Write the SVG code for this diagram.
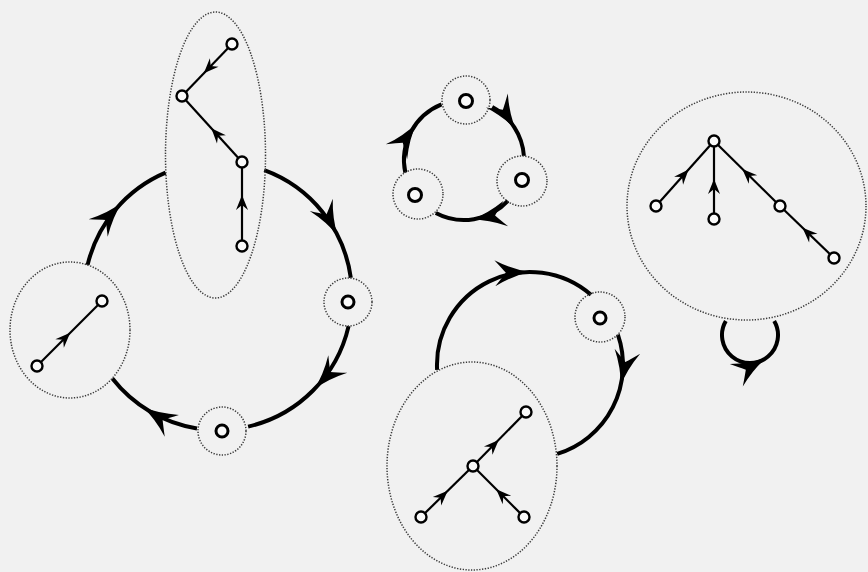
<svg xmlns="http://www.w3.org/2000/svg" width="868" height="572" viewBox="0 0 868 572">
<style>
.bg{fill:#f1f1f1}
.grp{fill:none;stroke:#3a3a3a;stroke-width:1.5;stroke-dasharray:1.3 1.5}
.arc{fill:none;stroke:#000;stroke-width:4}
.edge{fill:none;stroke:#000;stroke-width:2.2}
.n{fill:#fafafa;stroke:#000;stroke-width:2.4}
.nb{fill:#fafafa;stroke:#000;stroke-width:3}
</style>
<defs>
<path id="big" d="M3,0 Q-14,-3 -32,-13 Q-25,-5 -21,0 Q-25,5 -32,13 Q-14,3 3,0 Z" fill="#000"/>
<path id="small" d="M1,0 L-14,-6 L-9,0 L-14,6 Z" fill="#000"/>
</defs>
<rect class="bg" x="0" y="0" width="868" height="572"/>

<g id="connectors">
<path class="arc" d="M87.6,264.9 A134,134 0 0 1 165.6,172.7"/>
<path class="arc" d="M264.3,170.2 A134,134 0 0 1 350.8,277.8"/>
<path class="arc" d="M348.6,326.1 A134,134 0 0 1 248.1,426.6"/>
<path class="arc" d="M197.0,428.4 A134,134 0 0 1 112.4,378.5"/>
<path class="arc" d="M492.2,107.0 A60,60 0 0 1 523.9,155.8"/>
<path class="arc" d="M507.9,200.9 A60,60 0 0 1 435.8,213.0"/>
<path class="arc" d="M405.3,172.5 A60,60 0 0 1 441.5,104.4"/>
<path class="arc" d="M437.1,369.9 A93,93 0 0 1 591.0,294.8"/>
<path class="arc" d="M617.9,334.7 A93,93 0 0 1 557.2,453.9"/>
<path class="arc" d="M725.8,321 A28,28 0 1 0 774.2,321"/>
<use href="#big" transform="translate(120,204.6) rotate(-47)"/>
<use href="#big" transform="translate(336.3,233.1) rotate(62)"/>
<use href="#big" transform="translate(316,387.4) rotate(133)"/>
<use href="#big" transform="translate(145,408.4) rotate(213)"/>
<use href="#big" transform="translate(514.3,127.3) rotate(57)"/>
<use href="#big" transform="translate(474.4,219.1) rotate(170)"/>
<use href="#big" transform="translate(414.8,125.6) rotate(305)"/>
<use href="#big" transform="translate(526.8,272.1) rotate(358)"/>
<use href="#big" transform="translate(621.3,382.7) rotate(101)"/>
<use href="#big" transform="translate(764,359.2) rotate(-30)"/>

<path class="edge" d="M232,44 L182,96"/>
<path class="edge" d="M242,162 L182,96"/>
<path class="edge" d="M242,246 L242,162"/>
<path class="edge" d="M37,366 L102,301"/>
<path class="edge" d="M656,206 L714,141"/>
<path class="edge" d="M714,219 L714,141"/>
<path class="edge" d="M780,206 L714,141"/>
<path class="edge" d="M834,258 L780,206"/>
<path class="edge" d="M421,517 L473,466"/>
<path class="edge" d="M473,466 L526,412"/>
<path class="edge" d="M524,517 L473,466"/>
<use href="#small" transform="translate(204.5,72.6) rotate(133.9)"/>
<use href="#small" transform="translate(212,129) rotate(227.7)"/>
<use href="#small" transform="translate(242,196) rotate(-90)"/>
<use href="#small" transform="translate(69.5,333.5) rotate(-45)"/>
<use href="#small" transform="translate(687.9,170.3) rotate(-48.3)"/>
<use href="#small" transform="translate(714,180) rotate(-90)"/>
<use href="#small" transform="translate(743,169.6) rotate(-135.4)"/>
<use href="#small" transform="translate(803.2,228.4) rotate(-136.1)"/>
<use href="#small" transform="translate(447,491.5) rotate(-44.4)"/>
<use href="#small" transform="translate(498,440.6) rotate(-45.5)"/>
<use href="#small" transform="translate(497,490) rotate(-135)"/>
</g>

<g id="group-tall">
<ellipse class="grp" cx="215.5" cy="155" rx="50" ry="143"/>
<circle class="n" cx="232" cy="44" r="5.5"/>
<circle class="n" cx="182" cy="96" r="5.5"/>
<circle class="n" cx="242" cy="162" r="5.5"/>
<circle class="n" cx="242" cy="246" r="5.5"/>
</g>
<g id="group-left">
<ellipse class="grp" cx="70" cy="330" rx="60" ry="68"/>
<circle class="n" cx="102" cy="301" r="5.5"/>
<circle class="n" cx="37" cy="366" r="5.5"/>
</g>
<g id="node-right">
<circle class="grp" cx="348" cy="302" r="24"/>
<circle class="nb" cx="348" cy="302" r="6"/>
</g>
<g id="node-bottom">
<circle class="grp" cx="222" cy="431" r="24"/>
<circle class="nb" cx="222" cy="431" r="6"/>
</g>
<g id="triad-top">
<circle class="grp" cx="466" cy="100" r="24"/>
<circle class="nb" cx="466" cy="101" r="6.5"/>
</g>
<g id="triad-right">
<circle class="grp" cx="522" cy="181" r="25"/>
<circle class="nb" cx="522" cy="180" r="6.5"/>
</g>
<g id="triad-left">
<circle class="grp" cx="418" cy="194" r="25"/>
<circle class="nb" cx="415" cy="195" r="6.5"/>
</g>
<g id="group-big-right">
<ellipse class="grp" cx="746.5" cy="206" rx="119.5" ry="114"/>
<circle class="n" cx="714" cy="141" r="5.5"/>
<circle class="n" cx="656" cy="206" r="5.5"/>
<circle class="n" cx="714" cy="219" r="5.5"/>
<circle class="n" cx="780" cy="206" r="5.5"/>
<circle class="n" cx="834" cy="258" r="5.5"/>
</g>
<g id="node-small-br">
<circle class="grp" cx="600" cy="317" r="25"/>
<circle class="nb" cx="600" cy="318" r="6"/>
</g>
<g id="group-bottom">
<ellipse class="grp" cx="472" cy="466" rx="85" ry="104"/>
<circle class="n" cx="473" cy="466" r="5.5"/>
<circle class="n" cx="526" cy="412" r="5.5"/>
<circle class="n" cx="421" cy="517" r="5.5"/>
<circle class="n" cx="524" cy="517" r="5.5"/>
</g>
</svg>
